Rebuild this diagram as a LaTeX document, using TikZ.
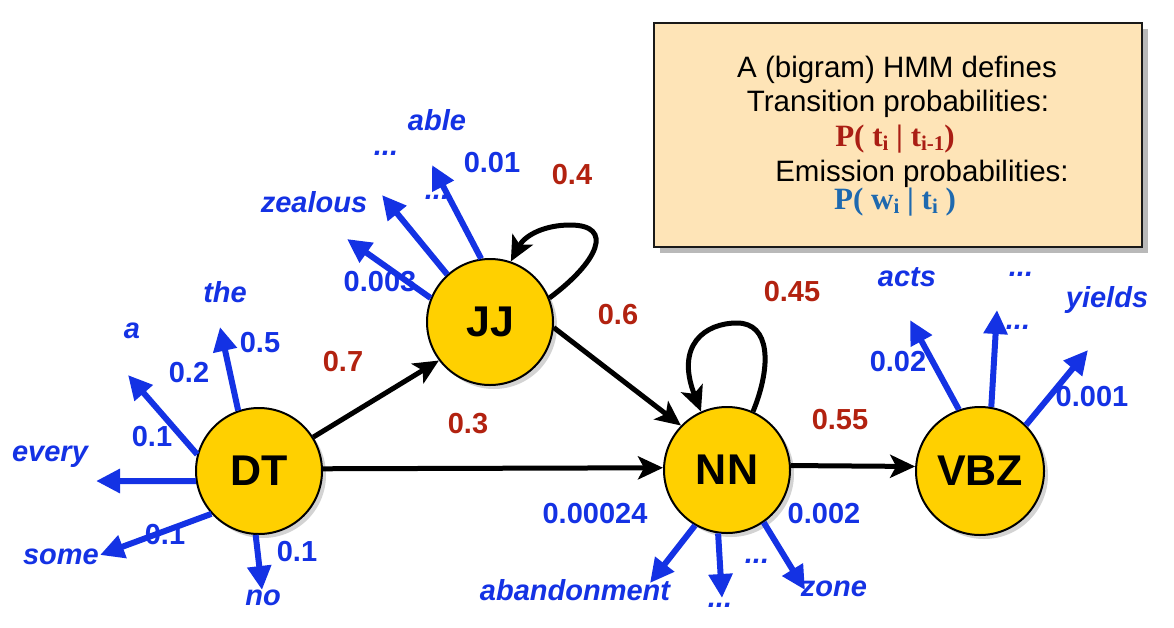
\documentclass[tikz,border=0pt]{standalone}
\usepackage{fontspec}
\setmainfont{Liberation Sans}
\newfontfamily\timesf{Liberation Serif}
\usetikzlibrary{arrows.meta,shadows}
\definecolor{gold}{RGB}{255,208,0}
\definecolor{embl}{RGB}{20,50,228}
\definecolor{trred}{RGB}{178,34,16}
\definecolor{boxfill}{RGB}{254,228,183}
\definecolor{frmred}{RGB}{170,30,20}
\definecolor{frmblue}{RGB}{30,105,175}
\newcommand\sbs[1]{\raisebox{-0.35ex}{\fontsize{21}{21}\selectfont #1}}
\begin{document}
\begin{tikzpicture}[x=1pt,y=-1pt,
  tag/.style={circle, draw=black, line width=2pt, fill=gold, minimum size=126pt, inner sep=0pt,
    font=\fontsize{43}{43}\selectfont\bfseries,
    drop shadow={shadow xshift=4pt, shadow yshift=-4pt, opacity=0.35}},
  word/.style={text=embl, font=\fontsize{29}{29}\selectfont\bfseries\itshape, inner sep=0pt},
  eprob/.style={text=embl, font=\fontsize{29}{29}\selectfont\bfseries, inner sep=0pt},
  tprob/.style={text=trred, font=\fontsize{29}{29}\selectfont\bfseries, inner sep=0pt},
  boxtxt/.style={font=\fontsize{29.5}{29.5}\selectfont, inner sep=0pt, anchor=base},
  frm/.style={font=\fontsize{31}{31}\selectfont\timesf\bfseries, inner sep=0pt, anchor=base},
  emit/.style={draw=embl, line width=6pt, -{Triangle[length=24pt,width=23pt]}},
  trans/.style={draw=black, line width=5pt, -{Stealth[length=25pt,width=23pt,inset=6pt]}},
]
\useasboundingbox (0,0) rectangle (1174,627);

% info box
\node[draw=black!90, line width=2pt, fill=boxfill, minimum width=488pt, minimum height=224pt,
  drop shadow={shadow xshift=6pt, shadow yshift=-6pt, opacity=0.55}] (box) at (898,135) {};
\node[boxtxt] (l1) at (897,77) {A (bigram) HMM defines};
\node[boxtxt] (l2) at (898,111) {Transition probabilities:};
\node[frm, text=frmred] (l3) at (895,146) {P( t\sbs{i} | t\sbs{i-1})};
\node[boxtxt] (l4) at (922,181) {Emission probabilities:};
\node[frm, text=frmblue] (l5) at (895,209) {P( w\sbs{i} | t\sbs{i} )};

% states
\node[tag] (DT) at (259,471) {DT};
\node[tag] (JJ) at (490,322) {JJ};
\node[tag] (NN) at (727,470) {NN};
\node[tag, minimum size=128pt] (VBZ) at (980,471) {VBZ};

% emitted words
\node[word] (wThe) at (225,292) {the};
\node[word] (wA) at (132,331) {a};
\node[word] (wEvery) at (50,457) {every};
\node[word] (wSome) at (61,557) {some};
\node[word] (wNo) at (263,598) {no};
\node[word] (wAble) at (437,120) {able};
\node[word] (wDots1) at (386,153) {...};
\node[word] (wZeal) at (314,202) {zealous};
\node[word] (wDots2) at (437,197) {...};
\node[word] (wAband) at (575,590) {abandonment};
\node[word] (wDots3) at (720,605) {...};
\node[word] (wDots4) at (757,561) {...};
\node[word] (wZone) at (834,589) {zone};
\node[word] (wActs) at (907,277) {acts};
\node[word] (wDots5) at (1021,274) {...};
\node[word] (wYields) at (1107,300) {yields};
\node[word] (wDots6) at (1018,327) {...};

% emission probabilities
\node[eprob] (e1) at (260,343) {0.5};
\node[eprob] (e2) at (189,373) {0.2};
\node[eprob] (e3) at (152,437) {0.1};
\node[eprob] (e4) at (165,535) {0.1};
\node[eprob] (e5) at (297,552) {0.1};
\node[eprob] (e6) at (492,163) {0.01};
\node[eprob] (e7) at (380,282) {0.003};
\node[eprob] (e8) at (595,514) {0.00024};
\node[eprob] (e9) at (824,514) {0.002};
\node[eprob] (e10) at (898,362) {0.02};
\node[eprob] (e11) at (1092,397) {0.001};

% transition probabilities
\node[tprob] (p1) at (343,362) {0.7};
\node[tprob] (p2) at (572,175) {0.4};
\node[tprob] (p3) at (618,315) {0.6};
\node[tprob] (p4) at (792,292) {0.45};
\node[tprob] (p5) at (468,424) {0.3};
\node[tprob] (p6) at (840,420) {0.55};

% arrow tips of emissions
\coordinate (tThe) at (220,327);
\coordinate (tA) at (128,375);
\coordinate (tEvery) at (96,481);
\coordinate (tSome) at (100,555);
\coordinate (tNo) at (262,590);
\coordinate (tAble) at (432,165);
\coordinate (tZeal) at (382,195);
\coordinate (tJJc) at (347,239);
\coordinate (tAband) at (650,583);
\coordinate (tNNdots) at (722,598);
\coordinate (tZone) at (805,590);
\coordinate (tActs) at (910,320);
\coordinate (tVdots) at (997,310);
\coordinate (tYields) at (1088,350);

\draw[emit] (DT.109) -- (tThe);
\draw[emit] (DT.165) -- (tA);
\draw[emit] (DT.189) -- (tEvery);
\draw[emit] (DT.222) -- (tSome);
\draw[emit] (DT.267) -- (tNo);
\draw[emit] (JJ.98) -- (tAble);
\draw[emit] (JJ.132) -- (tZeal);
\draw[emit] (JJ.158) -- (tJJc);
\draw[emit] (NN.240) -- (tAband);
\draw[emit] (NN.262) -- (tNNdots);
\draw[emit] (NN.305) -- (tZone);
\draw[emit] (VBZ.109) -- (tActs);
\draw[emit] (VBZ.80) -- (tVdots);
\draw[emit] (VBZ.45) -- (tYields);

% transitions
\draw[trans] (DT.32) -- (JJ.217);
\draw[trans] (JJ.355) -- (NN.136);
\draw[trans] (DT.2) -- (NN.178);
\draw[trans] (NN.4) -- (VBZ.176);
\draw[trans] (JJ.22) .. controls (598,262) and (615,225) .. (570,225)
   .. controls (545,225) and (525,235) .. (JJ.71);
\draw[trans] (NN.66) .. controls (772,365) and (770,323) .. (737,323)
   .. controls (705,323) and (675,345) .. (NN.114);
\end{tikzpicture}
\end{document}
